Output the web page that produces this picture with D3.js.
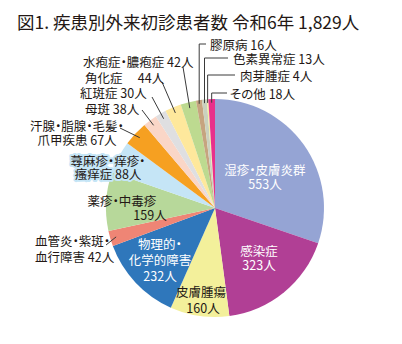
<!DOCTYPE html>
<html><head><meta charset="utf-8">
<script src="https://cdn.jsdelivr.net/npm/d3@7"></script>
<style>
html,body{margin:0;padding:0;background:#fff;}
svg text{font-family:"Noto Sans CJK JP","Noto Sans CJK SC","Noto Sans",sans-serif;font-feature-settings:"palt";}
</style></head><body>
<svg id="chart" width="402" height="344"></svg>
<script>
// Outpatient first-visit counts by disease group, clockwise from 12 o'clock
const title = "図1. 疾患別外来初診患者数 令和6年 1,829人";
const categories = [
  "湿疹・皮膚炎群", "感染症", "皮膚腫瘍", "物理的・化学的障害", "血管炎・紫斑・血行障害",
  "薬疹・中毒疹", "蕁麻疹・痒疹・瘙痒症", "汗腺・脂腺・毛髪・爪甲疾患", "母斑", "紅斑症",
  "角化症", "水疱症・膿疱症", "膠原病", "色素異常症", "肉芽腫症", "その他"
];
const counts = [553, 323, 160, 232, 42, 159, 88, 67, 38, 30, 44, 42, 16, 13, 4, 18];
const colors = [
  "#95a4d4", "#b13f95", "#f3f09b", "#2f77bb", "#ef8575", "#b7d89a", "#c5e5f6", "#f6a021",
  "#fad6c7", "#dfdfe1", "#fee89c", "#bdda90", "#c6a47f", "#cad1be", "#f3eca0", "#e8318b"
];

// Label placement: text lines ({v} = count + 人), colour, and leader line outer end
const labelLayout = {
  "湿疹・皮膚炎群": {fill: "#fff", lines: [["湿疹・皮膚炎群", 265, 169], ["{v}", 265, 183]]},
  "感染症": {fill: "#fff", lines: [["感染症", 259, 250], ["{v}", 259, 264]]},
  "皮膚腫瘍": {lines: [["皮膚腫瘍", 201, 291], ["{v}", 203, 307]]},
  "物理的・化学的障害": {fill: "#fff", lines: [["物理的・", 160, 243], ["化学的障害", 160, 259], ["{v}", 160, 275]]},
  "血管炎・紫斑・血行障害": {anchor: "start", lines: [["血管炎・紫斑・", 35, 240], ["血行障害 {v}", 35, 256]], leader: {type: "diag", x: 106, y: 245}},
  "薬疹・中毒疹": {lines: [["薬疹・中毒疹", 122, 200], ["{v}", 150, 214]]},
  "蕁麻疹・痒疹・瘙痒症": {halo: "#c5e5f6", lines: [["蕁麻疹・痒疹・", 108, 160], ["瘙痒症 {v}", 108, 173]]},
  "汗腺・脂腺・毛髪・爪甲疾患": {lines: [["汗腺・脂腺・毛髪・", 77, 125], ["爪甲疾患 {v}", 77, 139]], leader: {type: "diag", x: 120, y: 128}},
  "母斑": {anchor: "start", lines: [["母斑 {v}", 85, 108]], leader: {type: "diag", x: 142, y: 110}},
  "紅斑症": {anchor: "start", lines: [["紅斑症 {v}", 80, 92]], leader: {type: "diag", x: 152, y: 97}},
  "角化症": {anchor: "start", lines: [["角化症　 {v}", 85, 77]], leader: {type: "diag", x: 162, y: 82}},
  "水疱症・膿疱症": {anchor: "start", lines: [["水疱症・膿疱症 {v}", 83, 61]], leader: {type: "diag", x: 183, y: 67}},
  "膠原病": {anchor: "start", lines: [["膠原病 {v}", 210, 44]], leader: {type: "elbow", x: 206, y: 44}},
  "色素異常症": {anchor: "start", lines: [["色素異常症 {v}", 233, 58]], leader: {type: "elbow", x: 228, y: 58}},
  "肉芽腫症": {anchor: "start", lines: [["肉芽腫症 {v}", 240, 75]], leader: {type: "elbow", x: 235, y: 75}},
  "その他": {anchor: "start", lines: [["その他 {v}", 230, 93]], leader: {type: "elbow", x: 227, y: 93}}
};

const svg = d3.select("#chart");
const cx = 215, cy = 208, r = 109;

svg.append("text")
  .attr("x", 17).attr("y", 21)
  .attr("dominant-baseline", "central")
  .attr("font-size", 17.5)
  .attr("fill", "#231815")
  .text(title);

const data = categories.map((c, i) => ({name: c, value: counts[i], color: colors[i]}));
const pie = d3.pie().value(d => d.value).sort(null).startAngle(0).endAngle(2 * Math.PI);
const arcs = pie(data);
const arc = d3.arc().innerRadius(0).outerRadius(r);

const g = svg.append("g").attr("transform", `translate(${cx},${cy})`);
g.selectAll("path.slice").data(arcs).join("path")
  .attr("class", "slice")
  .attr("d", arc)
  .attr("fill", d => d.data.color);

// point on the pie at the middle angle of a slice
function midPoint(d, k) {
  const a = (d.startAngle + d.endAngle) / 2;
  return [cx + r * k * Math.sin(a), cy - r * k * Math.cos(a)];
}

const leaders = svg.append("g").attr("fill", "none").attr("stroke", "#3a3a3a").attr("stroke-width", 1);
arcs.forEach(d => {
  const L = labelLayout[d.data.name];
  if (!L || !L.leader) return;
  if (L.leader.type === "diag") {
    const p = midPoint(d, 0.945);
    leaders.append("line").attr("x1", L.leader.x).attr("y1", L.leader.y).attr("x2", p[0]).attr("y2", p[1]);
  } else {
    const p = midPoint(d, 0.985);
    leaders.append("path").attr("d", `M${L.leader.x},${L.leader.y}H${p[0]}V${p[1] + 2}`);
  }
});

const labels = svg.append("g").attr("font-size", 12.5);
arcs.forEach(d => {
  const L = labelLayout[d.data.name];
  if (!L) return;
  L.lines.forEach(([t, x, y]) => {
    const txt = labels.append("text")
      .attr("x", x).attr("y", y)
      .attr("text-anchor", L.anchor || "middle")
      .attr("dominant-baseline", "central")
      .attr("fill", L.fill || "#231815")
      .text(t.replace("{v}", d.data.value + "人"));
    if (L.halo) {
      txt.attr("stroke", L.halo).attr("stroke-width", 4)
        .attr("stroke-linejoin", "round").attr("paint-order", "stroke");
    }
  });
});
</script>
</body></html>
